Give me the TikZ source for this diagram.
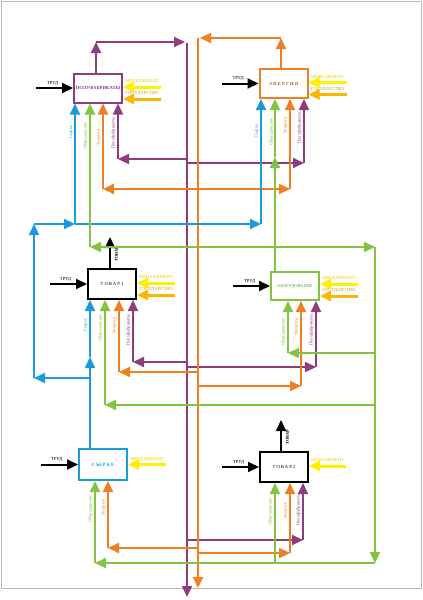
\documentclass[tikz,border=0pt]{standalone}
\usepackage{fontspec}
\setmainfont{Liberation Serif}
\newfontfamily\spaced[LetterSpace=25]{Liberation Serif}
\usetikzlibrary{arrows.meta}
\definecolor{cpurple}{RGB}{142,59,128}
\definecolor{corange}{RGB}{238,127,34}
\definecolor{cblue}{RGB}{28,155,219}
\definecolor{cgreen}{RGB}{130,195,65}
\definecolor{cyellow}{RGB}{255,240,0}
\definecolor{cgold}{RGB}{249,183,0}
\definecolor{mantext}{RGB}{232,205,0}
\definecolor{govtext}{RGB}{212,158,0}
\begin{document}
\begin{tikzpicture}[x=1pt, y=-1pt, >={Triangle[length=11pt,width=10pt]},
  box/.style={draw, line width=2pt, minimum width=48pt, minimum height=29pt, inner sep=0pt, fill=white},
  flow/.style={->, line width=2pt},
  trud/.style={->, line width=2pt, black},
  man/.style={->, line width=3pt, cyellow},
  gov/.style={->, line width=3pt, cgold},
  lbl/.style={rotate=90, inner sep=0pt, font=\fontsize{4.6}{5}\selectfont},
  note/.style={inner sep=0pt, font=\fontsize{4.6}{5}\selectfont}]
  \useasboundingbox (0,0) rectangle (423,600);
  \draw[gray!55, line width=1pt] (1.5,1.5) rectangle (421.5,588);

  % boxes
  \node[box, draw=cpurple, text=cpurple, font=\bfseries\fontsize{4.7}{5}\selectfont] (pf) at (98,88) {ПОЛУФАБРИКАТЫ};
  \node[box, draw=corange, text=corange!75!black, font=\spaced\bfseries\fontsize{4.6}{5}\selectfont] (en) at (283.5,83.5) {ЭНЕРГИЯ};
  \node[box, draw=black, minimum height=30pt, font=\spaced\fontsize{4.6}{5}\selectfont] (t1) at (112,284) {ТОВАР1};
  \node[box, draw=cgreen, text=cgreen!80!black, minimum height=28pt, font=\fontsize{4.5}{5}\selectfont] (ob) at (295,286) {ОБОРУДОВАНИЕ};
  \node[box, draw=cblue, text=cblue, minimum height=31pt, font=\spaced\bfseries\fontsize{4.9}{5}\selectfont] (sy) at (103,464.5) {СЫРЬЕ};
  \node[box, draw=black, minimum height=30pt, font=\spaced\fontsize{4.6}{5}\selectfont] (t2) at (284,467) {ТОВАР2};

  % labour in
  \draw[trud] ([xshift=-37pt]pf.west) -- (pf.west) node[note, above=2pt, pos=.45] (pftr) {ТРУД};
  \draw[trud] ([xshift=-37pt]en.west) -- (en.west) node[note, above=2pt, pos=.45] (entr) {ТРУД};
  \draw[trud] ([xshift=-37pt]t1.west) -- (t1.west) node[note, above=2pt, pos=.42] (t1tr) {ТРУД};
  \draw[trud] ([xshift=-37pt]ob.west) -- (ob.west) node[note, above=2pt, pos=.45] (obtr) {ТРУД};
  \draw[trud] ([xshift=-37pt]sy.west) -- (sy.west) node[note, above=2pt, pos=.43] (sytr) {ТРУД};
  \draw[trud] ([xshift=-37pt]t2.west) -- (t2.west) node[note, above=2pt, pos=.45] (t2tr) {ТРУД};

  % management and state
  \draw[man] ([xshift=38pt,yshift=1pt]pf.east) -- ([yshift=1pt]pf.east) node[note, above=2pt, midway, text=mantext] (pfm) {МЕНЕДЖМЕНТ};
  \draw[gov] ([xshift=38pt,yshift=4.5pt]pf.south east) -- ([yshift=4.5pt]pf.south east) node[note, above=2pt, midway, text=govtext] (pfg) {ГОСУДАРСТВО};
  \draw[man] ([xshift=38pt,yshift=1pt]en.east) -- ([yshift=1pt]en.east) node[note, above=2pt, midway, text=mantext] (enm) {МЕНЕДЖМЕНТ};
  \draw[gov] ([xshift=38pt,yshift=4.5pt]en.south east) -- ([yshift=4.5pt]en.south east) node[note, above=2pt, midway, text=govtext] (eng) {ГОСУДАРСТВО};
  \draw[man] ([xshift=38pt,yshift=1pt]t1.east) -- ([yshift=1pt]t1.east) node[note, above=2pt, midway, text=mantext] (t1m) {МЕНЕДЖМЕНТ};
  \draw[gov] ([xshift=38pt,yshift=5pt]t1.south east) -- ([yshift=5pt]t1.south east) node[note, above=2pt, midway, text=govtext] (t1g) {ГОСУДАРСТВО};
  \draw[man] ([xshift=38pt,yshift=2pt]ob.east) -- ([yshift=2pt]ob.east) node[note, above=2pt, midway, text=mantext] (obm) {МЕНЕДЖМЕНТ};
  \draw[gov] ([xshift=38pt,yshift=5pt]ob.south east) -- ([yshift=5pt]ob.south east) node[note, above=2pt, midway, text=govtext] (obg) {ГОСУДАРСТВО};
  \draw[man] ([xshift=38pt]sy.east) -- (sy.east) node[note, above=2pt, midway, text=mantext] (sym) {МЕНЕДЖМЕНТ};
  \draw[man] ([xshift=37pt,yshift=1pt]t2.east) -- ([yshift=1pt]t2.east) node[note, above=2pt, midway, text=mantext] (t2m) {МЕНЕДЖМЕНТ};

  % goods out
  \coordinate (t1out) at (110,237);
  \coordinate (t2out) at (281,420);
  \draw[trud] (t1out |- t1.north) -- (t1out);
  \draw[trud] (t2out |- t2.north) -- (t2out);
  \node[lbl, font=\bfseries\fontsize{4.3}{5}\selectfont] (t1lab) at (116.5,254) {ТОВАР};
  \node[lbl, font=\bfseries\fontsize{4.3}{5}\selectfont] (t2lab) at (287.5,437) {ТОВАР};

  % purple: semi-finished goods
  \coordinate (pOut) at (96,42);
  \coordinate (pEnd) at (185,42);
  \coordinate (pTop) at (187,43);
  \coordinate (pBot) at (187,597);
  \draw[flow, cpurple] (pOut |- pf.north) -- (pOut);
  \draw[flow, cpurple] (pOut) -- (pEnd);
  \draw[flow, cpurple] (pTop) -- (pBot);
  \coordinate (p1) at (118,159);
  \coordinate (p2) at (304,163);
  \coordinate (p3) at (133,362);
  \coordinate (p4) at (316,367);
  \coordinate (p5) at (303,540);
  \draw[flow, cpurple] (pTop |- p1) -- (p1);
  \draw[flow, cpurple] (p1) -- (p1 |- pf.south);
  \draw[flow, cpurple] (pTop |- p2) -- (p2);
  \draw[flow, cpurple] (p2) -- (p2 |- en.south);
  \draw[flow, cpurple] (pTop |- p3) -- (p3);
  \draw[flow, cpurple] (p3) -- (p3 |- t1.south);
  \draw[flow, cpurple] (pTop |- p4) -- (p4);
  \draw[flow, cpurple] (p4) -- (p4 |- ob.south);
  \draw[flow, cpurple] (pTop |- p5) -- (p5);
  \draw[flow, cpurple] (p5) -- (p5 |- t2.south);

  % orange: energy
  \coordinate (oOut) at (281,38);
  \coordinate (oEnd) at (200,38);
  \coordinate (oTop) at (198,38);
  \coordinate (oBot) at (198,588);
  \draw[flow, corange] (oOut |- en.north) -- (oOut);
  \draw[flow, corange] (oOut) -- (oEnd);
  \draw[flow, corange] (oTop) -- (oBot);
  \coordinate (o1) at (103,189);
  \coordinate (o2) at (290,189);
  \coordinate (o3) at (119,372);
  \coordinate (o4) at (301,386);
  \coordinate (o5) at (108,548);
  \coordinate (o6) at (290,553);
  \draw[flow, corange] (oTop |- o1) -- (o1);
  \draw[flow, corange] (o1) -- (o1 |- pf.south);
  \draw[flow, corange] (oTop |- o2) -- (o2);
  \draw[flow, corange] (o2) -- (o2 |- en.south);
  \draw[flow, corange] (oTop |- o3) -- (o3);
  \draw[flow, corange] (o3) -- (o3 |- t1.south);
  \draw[flow, corange] (oTop |- o4) -- (o4);
  \draw[flow, corange] (o4) -- (o4 |- ob.south);
  \draw[flow, corange] (oTop |- o5) -- (o5);
  \draw[flow, corange] (o5) -- (o5 |- sy.south);
  \draw[flow, corange] (oTop |- o6) -- (o6);
  \draw[flow, corange] (o6) -- (o6 |- t2.south);

  % blue: raw material
  \coordinate (b0) at (90,357);
  \coordinate (b1) at (90,378);
  \coordinate (b2) at (34,378);
  \coordinate (b3) at (34,224);
  \coordinate (b4) at (75,224);
  \coordinate (b5) at (261,224);
  \draw[flow, cblue] (b0 |- sy.north) -- (b0);
  \draw[flow, cblue] (b0) -- (b0 |- t1.south);
  \draw[flow, cblue] (b1) -- (b2);
  \draw[flow, cblue] (b2) -- (b3);
  \draw[flow, cblue] (b3) -- (b4);
  \draw[flow, cblue] (b4) -- (b4 |- pf.south);
  \draw[flow, cblue] (b4) -- (b5);
  \draw[flow, cblue] (b5) -- (b5 |- en.south);

  % green: equipment
  \coordinate (g0) at (275,247);
  \coordinate (g1) at (275,157);
  \coordinate (g2) at (90,247);
  \coordinate (g3) at (375,247);
  \coordinate (g4) at (375,563);
  \coordinate (g5) at (288,353);
  \coordinate (g6) at (105,405);
  \coordinate (g7) at (95,563);
  \coordinate (g8) at (275,563);
  \draw[line width=2pt, cgreen] (g0 |- ob.north) -- (g0);
  \draw[flow, cgreen] (g0) -- (g1);
  \draw[flow, cgreen] (g1) -- (g1 |- en.south);
  \draw[flow, cgreen] (g0) -- (g2);
  \draw[flow, cgreen] (g2) -- (g2 |- pf.south);
  \draw[flow, cgreen] (g0) -- (g3);
  \draw[flow, cgreen] (g3) -- (g4);
  \draw[flow, cgreen] (g3 |- g5) -- (g5);
  \draw[flow, cgreen] (g5) -- (g5 |- ob.south);
  \draw[flow, cgreen] (g3 |- g6) -- (g6);
  \draw[flow, cgreen] (g6) -- (g6 |- t1.south);
  \draw[flow, cgreen] (g4) -- (g7);
  \draw[flow, cgreen] (g7) -- (g7 |- sy.south);
  \draw[flow, cgreen] (g8) -- (g8 |- t2.south);

  % input labels
  \node[lbl, text=cblue] (pfl1) at (71,132) {Сырье};
  \node[lbl, text=cgreen] (pfl2) at (85.5,136) {Оборудование};
  \node[lbl, text=corange] (pfl3) at (98.5,138) {Энергия};
  \node[lbl, text=cpurple] (pfl4) at (113.5,133) {Полуфабрикаты};
  \node[lbl, text=cblue] (enl1) at (256.5,131) {Сырье};
  \node[lbl, text=cgreen] (enl2) at (271.5,132) {Оборудование};
  \node[lbl, text=corange] (enl3) at (285.5,126) {Энергия};
  \node[lbl, text=cpurple] (enl4) at (299.5,128) {Полуфабрикаты};
  \node[lbl, text=cblue] (t1l1) at (85.5,325) {Сырье};
  \node[lbl, text=cgreen] (t1l2) at (100.5,328) {Оборудование};
  \node[lbl, text=corange] (t1l3) at (114.5,326) {Энергия};
  \node[lbl, text=cpurple] (t1l4) at (128.5,330) {Полуфабрикаты};
  \node[lbl, text=cgreen] (obl2) at (283.5,332) {Оборудование};
  \node[lbl, text=corange] (obl3) at (296.5,327) {Энергия};
  \node[lbl, text=cpurple] (obl4) at (311.5,330) {Полуфабрикаты};
  \node[lbl, text=cgreen] (syl2) at (90.5,509) {Оборудование};
  \node[lbl, text=corange] (syl3) at (103.5,508) {Энергия};
  \node[lbl, text=cgreen] (t2l2) at (270.5,512) {Оборудование};
  \node[lbl, text=corange] (t2l3) at (285.5,511) {Энергия};
  \node[lbl, text=cpurple] (t2l4) at (298.5,510) {Полуфабрикаты};
\end{tikzpicture}
\end{document}
